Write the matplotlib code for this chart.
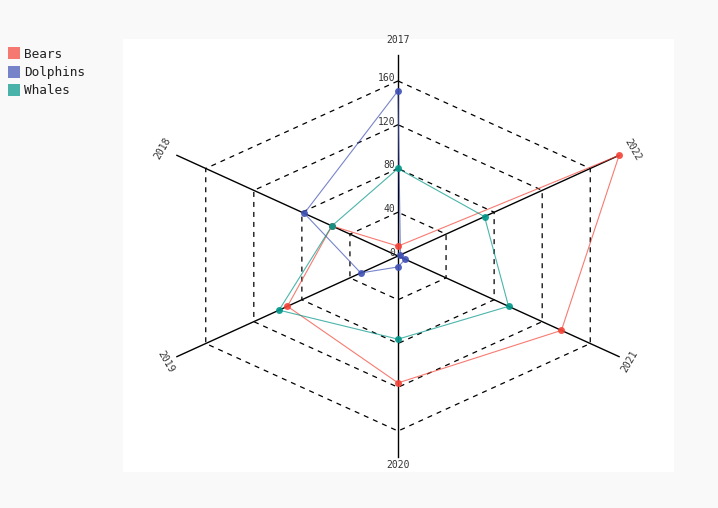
import numpy as np
import matplotlib
matplotlib.use("Agg")
import matplotlib.pyplot as plt

# radar values
years = ["2017", "2018", "2019", "2020", "2021", "2022"]
bears = [9, 55, 92, 116, 136, 184]
dolphins = [151, 78, 31, 10, 6, 2]
whales = [80, 55, 99, 76, 92, 72]
levels = [40, 80, 120, 160]
vmax = 184

names = ["Bears", "Dolphins", "Whales"]
colors = ["#F44336", "#3F51B5", "#009688"]

# pygal stretches the radar to the plot box, so x and y scale differently
kx = 1.3875
ky = 1.094
angles = np.deg2rad(90 + 60 * np.arange(len(years)))

def to_xy(vals):
    vals = np.asarray(vals, dtype=float)
    return vals * kx * np.cos(angles), vals * ky * np.sin(angles)

plt.rcParams['font.family'] = ['DejaVu Sans Mono']

fig = plt.figure(figsize=(7.18, 5.08), dpi=100)
fig.patch.set_facecolor("#f9f9f9")
ax = fig.add_axes([123 / 718, 36 / 508, 551 / 718, 433 / 508])
ax.set_facecolor("white")
ax.set_xlim(-275, 276)
ax.set_ylim(-216, 217)
for s in ax.spines.values():
    s.set_visible(False)
ax.set_xticks([])
ax.set_yticks([])

# dashed hexagon grid
for lv in levels:
    gx, gy = to_xy([lv] * len(years))
    ax.plot(np.append(gx, gx[0]), np.append(gy, gy[0]), color="black",
            lw=0.9, ls=(0, (4, 4)), zorder=1)

# axes spokes + labels
ex, ey = to_xy([vmax] * len(years))
lx, ly = to_xy([197, 196, 193, 191, 193, 195])
rots = [0, 60, -60, 0, 60, -60]
for i, yr in enumerate(years):
    ax.plot([0, ex[i]], [0, ey[i]], color="black", lw=1, zorder=1)
    ax.text(lx[i], ly[i], yr, rotation=rots[i], ha="center", va="center",
            fontsize=7, color="#333333")

# radial tick labels along the 2017 spoke
for lv in [0] + levels:
    ax.text(-3, lv * ky + 3, str(lv), ha="right", va="center",
            fontsize=7, color="#333333")

series = [bears, dolphins, whales]
for vals, c, n in zip(series, colors, names):
    x, y = to_xy(vals)
    ax.plot(np.append(x, x[0]), np.append(y, y[0]), color=c, lw=0.8,
            alpha=0.7, zorder=3)
    ax.plot(x, y, "o", color=c, ms=5, alpha=0.9, mec="none", zorder=4,
            label=n)

# legend drawn like pygal: small squares top-left
for i, (n, c) in enumerate(zip(names, colors)):
    yy = 1 - (53 + 18.5 * i) / 508
    fig.patches.append(plt.Rectangle((8 / 718, yy - 6 / 508), 12 / 718, 12 / 508,
                                     transform=fig.transFigure, facecolor=c,
                                     alpha=0.7, edgecolor="none"))
    fig.text(24 / 718, yy - 1 / 508, n, ha="left", va="center", fontsize=9.2,
             color="#222222")

fig.savefig("out.png", dpi=100, facecolor=fig.get_facecolor())
